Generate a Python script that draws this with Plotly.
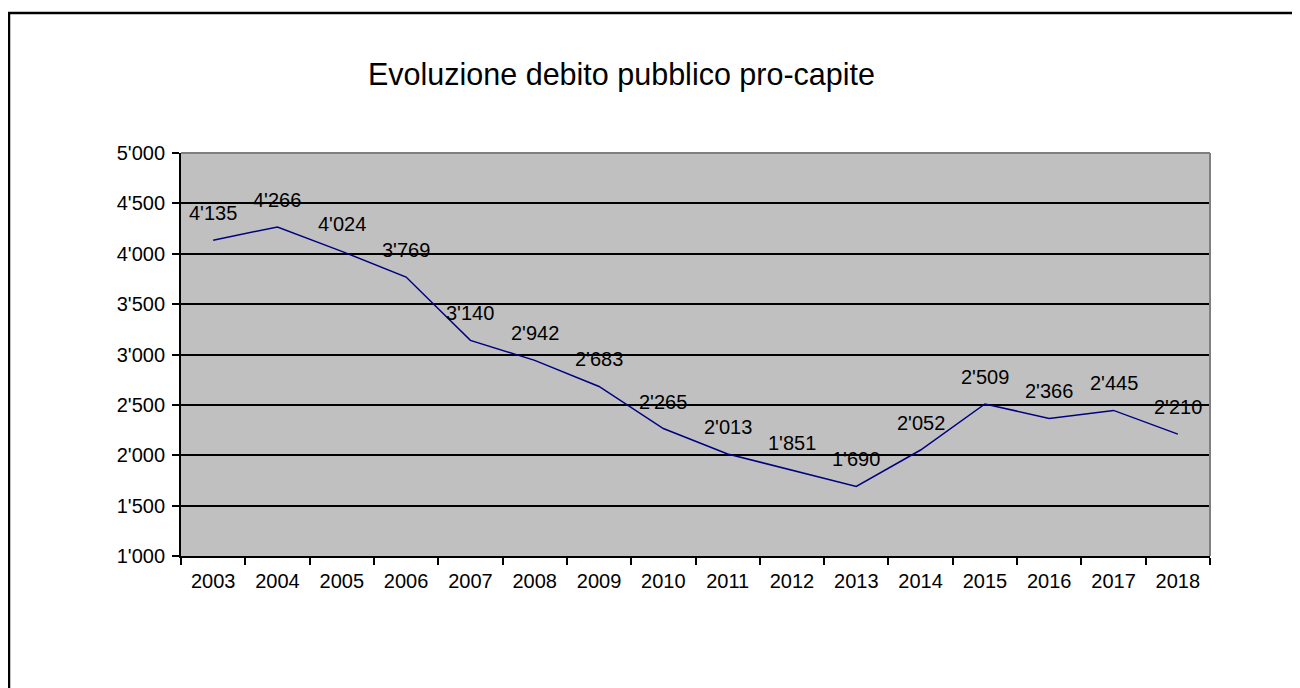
import plotly.graph_objects as go

years = ["2003", "2004", "2005", "2006", "2007", "2008", "2009", "2010",
         "2011", "2012", "2013", "2014", "2015", "2016", "2017", "2018"]
debt = [4135, 4266, 4024, 3769, 3140, 2942, 2683, 2265,
        2013, 1851, 1690, 2052, 2509, 2366, 2445, 2210]
title_text = "Evoluzione debito pubblico pro-capite"

OFF = 8  # page body margin
W, H = 1300 - OFF, 688 - OFF
L, T = 181 - OFF, 153 - OFF
PR, PB = 1210 - OFF, 556 - OFF  # plot right / bottom in figure px
R, B = W - PR, H - PB
pw, ph = PR - L, PB - T

FONT = "Liberation Sans, Arial, sans-serif"
FS = 20

fig = go.Figure()
fig.add_trace(go.Scatter(
    x=years, y=debt, mode="lines",
    line=dict(color="#000080", width=1.5),
    hoverinfo="skip", showlegend=False,
))

def px(xp):
    return (xp - OFF - L) / pw

def py(yp):
    return (PB - (yp - OFF)) / ph

annotations = []
for i, v in enumerate(debt):
    annotations.append(dict(
        x=i, y=v, xref="x", yref="y",
        text=f"{v:,}".replace(",", "'"),
        showarrow=False, yshift=27, yanchor="middle",
        font=dict(family=FONT, size=FS, color="black"),
    ))
annotations.append(dict(
    x=px(621), y=py(75), xref="paper", yref="paper",
    text=title_text, showarrow=False, xanchor="center", yanchor="middle",
    font=dict(family=FONT, size=30.5, color="black"),
))

shapes = [
    # outer chart border
    dict(type="rect", xref="paper", yref="paper",
         x0=px(9), x1=px(1330), y0=py(13), y1=py(730),
         line=dict(color="black", width=2.5), fillcolor="rgba(0,0,0,0)", layer="above"),
    # plot area top/right gray border
    dict(type="line", xref="paper", yref="paper", x0=0, x1=1, y0=1, y1=1,
         line=dict(color="#808080", width=2)),
    dict(type="line", xref="paper", yref="paper", x0=1, x1=1, y0=0, y1=1,
         line=dict(color="#808080", width=2)),
]

fig.update_layout(
    width=W, height=H,
    margin=dict(l=L, r=R, t=T, b=B, pad=0),
    paper_bgcolor="white", plot_bgcolor="#C0C0C0",
    separators=".'",
    font=dict(family=FONT, size=FS, color="black"),
    annotations=annotations,
    shapes=shapes,
    showlegend=False,
)
fig.update_xaxes(
    type="category", tickson="boundaries", ticks="outside", ticklen=7,
    tickwidth=2, tickcolor="black", showline=True, linecolor="black", linewidth=2,
    showgrid=False, zeroline=False, fixedrange=True, tickangle=0,
    range=[-0.5, len(years) - 0.5], ticklabelstandoff=6,
    tickfont=dict(family=FONT, size=FS, color="black"),
)
fig.update_yaxes(
    range=[1000, 5000], tickmode="linear", tick0=1000, dtick=500,
    tickformat=",d", ticks="outside", ticklen=7, tickwidth=2, tickcolor="black",
    showline=True, linecolor="black", linewidth=2,
    showgrid=True, gridcolor="black", gridwidth=1.5, zeroline=False,
    fixedrange=True, ticklabelstandoff=3,
    tickfont=dict(family=FONT, size=FS, color="black"),
)

fig.write_html("out.html")
